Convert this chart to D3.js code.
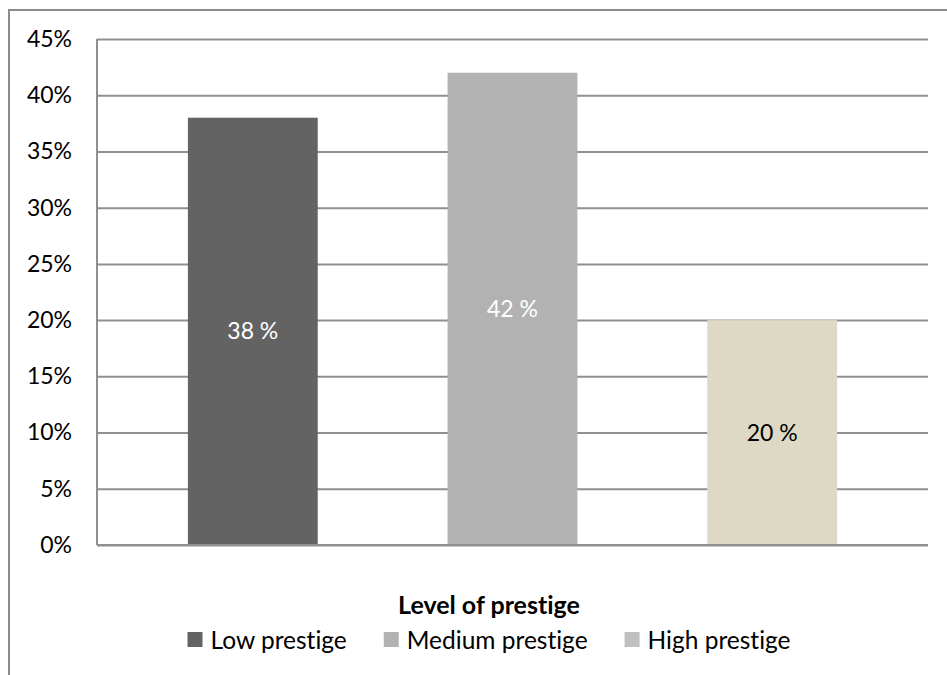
<!DOCTYPE html>
<html>
<head>
<meta charset="utf-8">
<script src="https://cdn.jsdelivr.net/npm/d3@7"></script>
<style>
  html, body { margin: 0; padding: 0; background: #fff; }
  svg { display: block; font-family: Lato, "Open Sans", sans-serif; font-variant-ligatures: none; font-feature-settings: "liga" 0, "clig" 0; }
</style>
</head>
<body>
<svg id="chart" width="947" height="675"></svg>
<script>
// Share of respondents by level of prestige
const series = ["Low prestige", "Medium prestige", "High prestige"];
const values = [38, 42, 20];
const barColors = ["#636363", "#b2b2b2", "#ddd9c4"];
const legendColors = ["#636363", "#b2b2b2", "#c0c0c0"];
const labelColors = ["#ffffff", "#ffffff", "#000000"];
const tickValues = [0, 5, 10, 15, 20, 25, 30, 35, 40, 45];
const axisTitle = "Level of prestige";

const svg = d3.select("#chart");
const W = 947, H = 675;
const plot = { left: 97, right: 928, top: 39, bottom: 545 };

// Outer chart frame (runs off the right and bottom edges)
svg.append("path")
  .attr("d", `M9,${H} L9,10 L${W},10`)
  .attr("fill", "none")
  .attr("stroke", "#8c8c8c")
  .attr("stroke-width", 2);

const y = d3.scaleLinear().domain([0, 45]).range([plot.bottom, plot.top]);
const x = d3.scaleBand().domain(series).range([plot.left, plot.right])
  .paddingInner(0.5).paddingOuter(0.35);

// Horizontal gridlines + tick labels
const yAxis = d3.axisLeft(y).tickValues(tickValues)
  .tickSize(-(plot.right - plot.left)).tickPadding(25)
  .tickFormat(d => d + "%");
const gy = svg.append("g").attr("transform", `translate(${plot.left},0)`).call(yAxis);
gy.select(".domain").remove();
gy.selectAll(".tick line").attr("stroke", "#8f8f8f").attr("stroke-width", 2);
gy.selectAll(".tick text")
  .attr("fill", "#000").attr("font-size", 23).attr("font-family", "Lato, sans-serif");

// Left axis line
svg.append("line")
  .attr("x1", plot.left).attr("x2", plot.left)
  .attr("y1", plot.top).attr("y2", plot.bottom)
  .attr("stroke", "#8f8f8f").attr("stroke-width", 2);

// Bars
svg.append("g").selectAll("rect")
  .data(series)
  .join("rect")
  .attr("x", d => x(d))
  .attr("width", x.bandwidth())
  .attr("y", (d, i) => y(values[i]))
  .attr("height", (d, i) => y(0) - y(values[i]))
  .attr("fill", (d, i) => barColors[i]);

// Bottom axis line
svg.append("line")
  .attr("x1", plot.left).attr("x2", plot.right)
  .attr("y1", plot.bottom).attr("y2", plot.bottom)
  .attr("stroke", "#8f8f8f").attr("stroke-width", 2);

// Value labels centred in each bar
svg.append("g").selectAll("text")
  .data(series)
  .join("text")
  .attr("x", d => x(d) + x.bandwidth() / 2)
  .attr("y", (d, i) => (y(values[i]) + y(0)) / 2)
  .attr("dy", "0.35em")
  .attr("text-anchor", "middle")
  .attr("font-size", 23)
  .attr("fill", (d, i) => labelColors[i])
  .text((d, i) => values[i] + " %");

// Axis title
const centerX = 489;
svg.append("text")
  .attr("x", centerX).attr("y", 605)
  .attr("dy", "0.35em")
  .attr("text-anchor", "middle")
  .attr("font-size", 25)
  .attr("font-weight", "bold")
  .attr("fill", "#000")
  .text(axisTitle);

// Legend
const legend = svg.append("g");
const items = legend.selectAll("g").data(series).join("g");
items.append("rect")
  .attr("width", 15).attr("height", 15)
  .attr("y", 632)
  .attr("fill", (d, i) => legendColors[i]);
items.append("text")
  .attr("x", 23).attr("y", 640)
  .attr("dy", "0.35em")
  .attr("font-size", 24.5)
  .attr("fill", "#000")
  .text(d => d);
const widths = items.nodes().map(n => 23 + d3.select(n).select("text").node().getComputedTextLength());
const gap = 37;
const total = d3.sum(widths) + gap * (series.length - 1);
let cx = centerX - total / 2;
items.each(function(d, i) {
  d3.select(this).attr("transform", `translate(${cx},0)`);
  cx += widths[i] + gap;
});
</script>
</body>
</html>
